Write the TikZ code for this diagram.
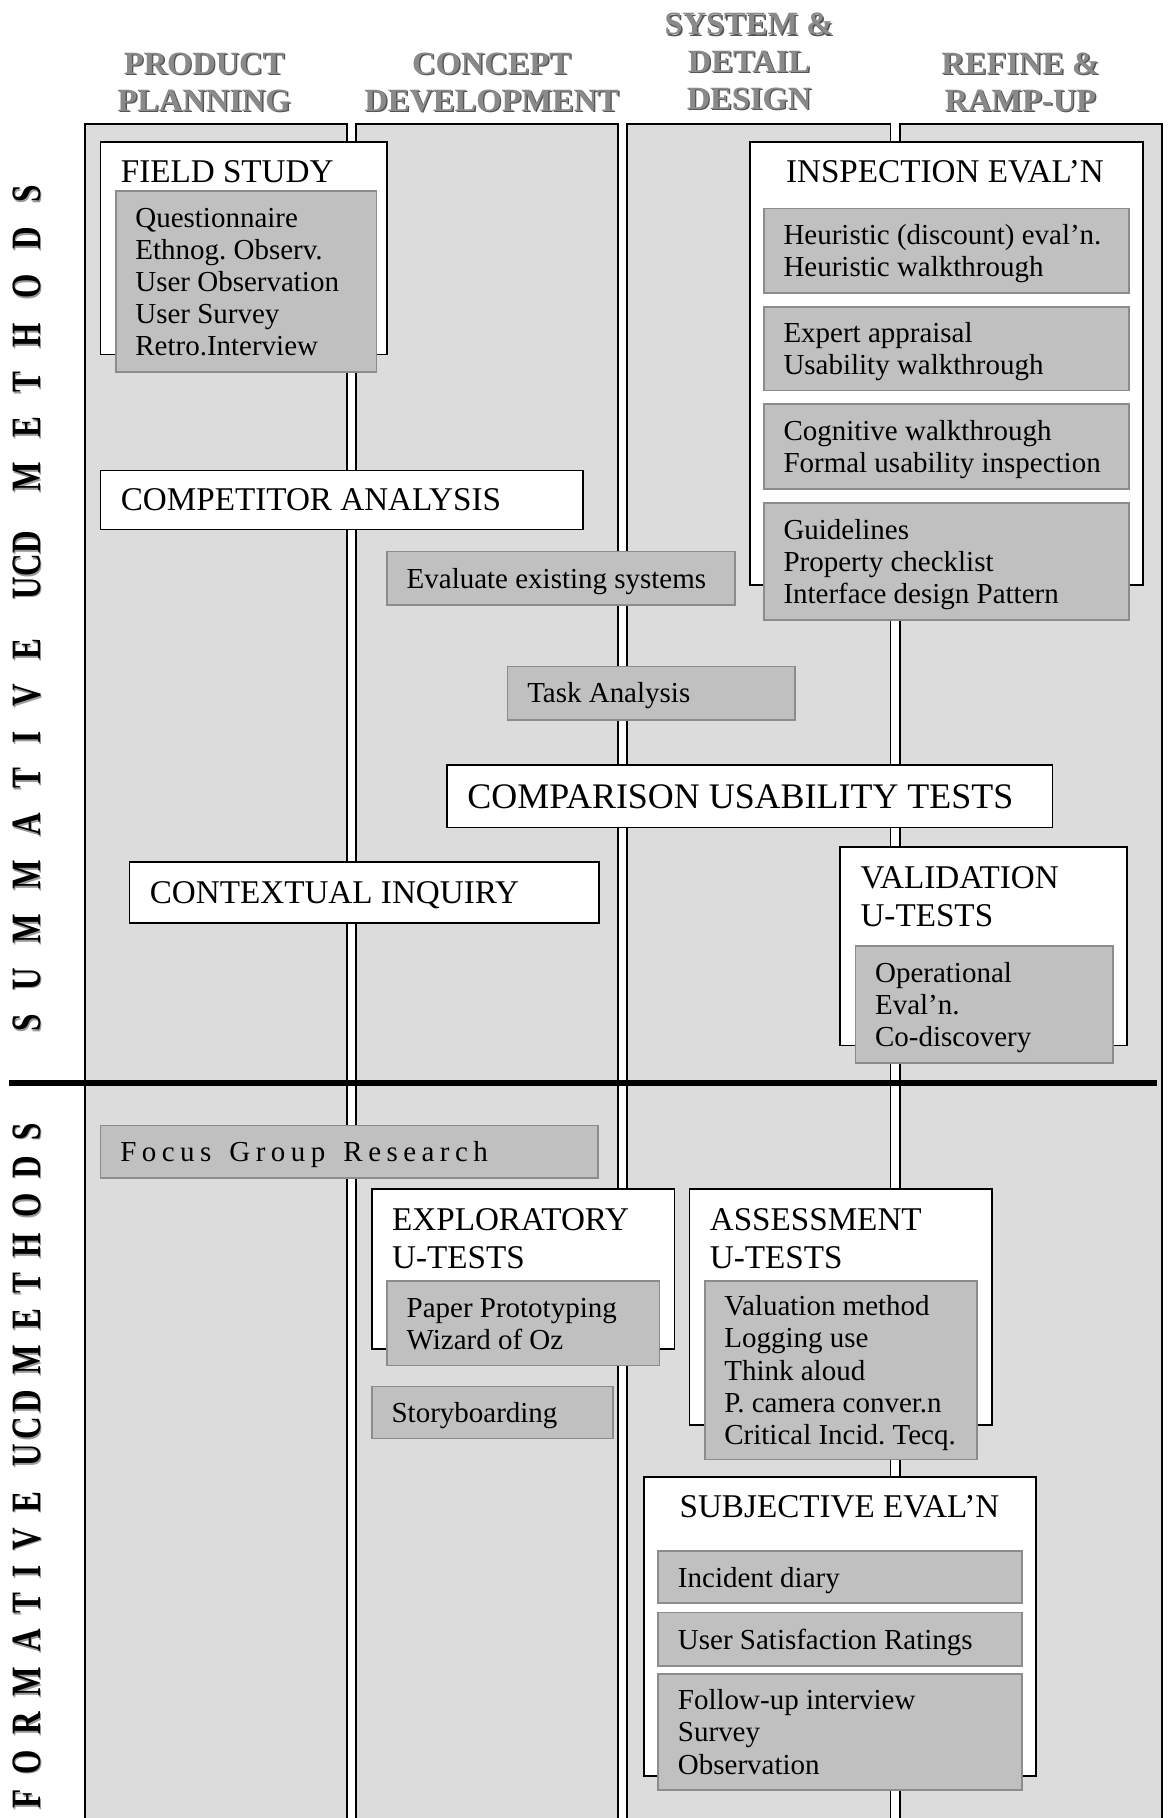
\documentclass[tikz,border=0pt]{standalone}
\usepackage{graphicx}
\usepackage{fontspec}
\setmainfont{Liberation Serif}
\frenchspacing
\makeatletter
\newcommand\lsp[2]{\def\lsp@sep{\hspace{#1}}\lsp@go#2\@nil}
\def\lsp@go#1#2\@nil{#1\ifx\relax#2\relax\else\lsp@sep\lsp@go#2\@nil\fi}
\makeatother
\newcommand\bodyf{\fontsize{25}{27.75}\selectfont}
\newcommand\ttlf{\fontsize{28.6}{33}\selectfont}
\newcommand\bigttlf{\fontsize{31}{36}\selectfont}
\newcommand\headf{\fontsize{28}{32}\selectfont\bfseries}
\newcommand\vertf{\fontsize{36}{40}\selectfont\bfseries}
\newcommand\summtext{\scalebox{0.75}[1]{\lsp{28pt}{SUMMATIVE}\hspace{45.7pt}UCD\hspace{45.7pt}\lsp{28pt}{METHODS}}}
\newcommand\formtext{\scalebox{0.75}[1]{\lsp{17.6pt}{FORMATIVE}\hspace{28pt}\lsp{5.3pt}{UCD}\hspace{17.6pt}\lsp{17.6pt}{METHODS}}}
\definecolor{panelgray}{HTML}{DCDCDC}
\definecolor{boxgray}{HTML}{C0C0C0}
\definecolor{boxedge}{HTML}{8C8C8C}
\definecolor{headgray}{HTML}{8A8A8A}
\definecolor{headshadow}{HTML}{555555}
\definecolor{vertshadow}{HTML}{9A9A9A}
\newcommand\wb[5]{\pgfmathsetmacro\bw{#4-#2}\pgfmathsetmacro\bh{#5-#3}%
  \node[wbox,minimum width=\bw pt,minimum height=\bh pt,anchor=north west] (#1) at (#2,#3) {};}
\newcommand\gb[6]{\pgfmathsetmacro\bw{#4-#2}\pgfmathsetmacro\bh{#5-#3}\pgfmathsetmacro\tw{#4-#2-34}%
  \node[gbox,minimum width=\bw pt,minimum height=\bh pt,anchor=north west] (#1) at (#2,#3)
    {\makebox[\tw pt][l]{\begin{tabular}{@{}l@{}}\rule{0pt}{25.4pt}#6\end{tabular}}};}
\begin{document}
\begin{tikzpicture}[x=1pt,y=-1pt,
  panel/.style={fill=panelgray,draw=black,line width=1.6pt},
  wbox/.style={fill=white,draw=black,line width=1.5pt,inner sep=0pt},
  gbox/.style={fill=boxgray,draw=boxedge,line width=1.5pt,inner xsep=17pt,inner ysep=0pt,font=\bodyf},
  ttl/.style={inner sep=0pt,font=\ttlf},
  head/.style={inner sep=0pt,align=center,font=\headf,text=headgray},
  headsh/.style={inner sep=0pt,align=center,font=\headf,text=headshadow},
  vert/.style={inner sep=0pt,font=\vertf,rotate=90},
  divider/.style={line width=5pt,draw=black}]
\clip (0,0) rectangle (1007,1568);
\fill[white] (0,0) rectangle (1007,1568);
% phase panels
\draw[panel] (73,107) rectangle (299,1600);
\draw[panel] (307,107) rectangle (533,1600);
\draw[panel] (541,107) rectangle (768,1600);
\draw[panel] (776,107) rectangle (1002,1600);
% headers
\node[headsh] (h1s) at (177.2,72.2) {PRODUCT\\PLANNING};
\node[head] (h1) at (176,71) {PRODUCT\\PLANNING};
\node[headsh] (h2s) at (425.2,72.2) {CONCEPT\\DEVELOPMENT};
\node[head] (h2) at (424,71) {CONCEPT\\DEVELOPMENT};
\node[headsh] (h3s) at (647.2,54.2) {SYSTEM \&\\DETAIL\\DESIGN};
\node[head] (h3) at (646,53) {SYSTEM \&\\DETAIL\\DESIGN};
\node[headsh] (h4s) at (881.2,72.2) {REFINE \&\\RAMP-UP};
\node[head] (h4) at (880,71) {REFINE \&\\RAMP-UP};
% side labels
\node[vert,text=vertshadow] (summs) at (24.5,526.5) {\summtext};
\node[vert] (summ) at (23,525) {\summtext};
\node[vert,text=vertshadow] (forms) at (24.5,1265.5) {\formtext};
\node[vert] (form) at (23,1264) {\formtext};
% divider
\coordinate (dl) at (8,934);
\coordinate (dr) at (998,934);
\draw[divider] (dl) -- (dr);
% ---- summative methods
\wb{fs}{86}{122}{333}{305}
\node[ttl,anchor=base west] (fst) at (104,157) {FIELD STUDY};
\gb{fsg}{99}{164}{324}{320}{Questionnaire\\Ethnog. Observ.\\User Observation\\User Survey\\Retro.Interview}
\wb{ins}{646}{122}{985}{504}
\node[ttl,anchor=base] (inst) at (815,157) {INSPECTION EVAL'N};
\gb{ins1}{658}{179}{973}{252}{Heuristic (discount) eval'n.\\Heuristic walkthrough}
\gb{ins2}{658}{264}{973}{336}{Expert appraisal\\Usability walkthrough}
\gb{ins3}{658}{348}{973}{421}{Cognitive walkthrough\\Formal usability inspection}
\gb{ins4}{658}{433}{973}{534}{Guidelines\\Property checklist\\Interface design Pattern}
\wb{ca}{86}{405}{502}{456}
\node[ttl,anchor=base west] (cat) at (104,440) {COMPETITOR ANALYSIS};
\gb{evs}{333}{475}{633}{521}{Evaluate existing systems}
\gb{ta}{437}{574}{685}{620}{Task Analysis}
\wb{cut}{385}{659}{907}{713}
\node[inner sep=0pt,font=\bigttlf,anchor=base west] (cutt) at (403,697) {COMPARISON USABILITY TESTS};
\wb{ci}{111}{743}{516}{795}
\node[ttl,anchor=base west] (cit) at (129,779) {CONTEXTUAL INQUIRY};
\wb{val}{724}{730}{971}{901}
\node[ttl,anchor=base west] (valt1) at (742,766) {VALIDATION};
\node[ttl,anchor=base west] (valt2) at (742,799) {U-TESTS};
\gb{valg}{737}{815}{959}{916}{Operational\\Eval'n.\\Co-discovery}
% ---- formative methods
\gb{fg}{86}{970}{515}{1015}{\lsp{4.7pt}{Focus~Group~Research}}
\wb{exp}{320}{1025}{581}{1163}
\node[ttl,anchor=base west] (expt1) at (338,1061) {EXPLORATORY};
\node[ttl,anchor=base west] (expt2) at (338,1094) {U-TESTS};
\gb{expg}{333}{1104}{568}{1177}{Paper Prototyping\\Wizard of Oz}
\gb{sb}{320}{1195}{528}{1240}{Storyboarding}
\wb{ass}{594}{1025}{855}{1228}
\node[ttl,anchor=base west] (asst1) at (612,1061) {ASSESSMENT};
\node[ttl,anchor=base west] (asst2) at (612,1094) {U-TESTS};
\gb{assg}{607}{1104}{842}{1258}{Valuation method\\Logging use\\Think aloud\\P. camera conver.n\\Critical Incid. Tecq.}
\wb{subj}{555}{1273}{893}{1531}
\node[ttl,anchor=base] (subjt) at (724,1309) {SUBJECTIVE EVAL'N};
\gb{sub1}{567}{1337}{881}{1382}{Incident diary}
\gb{sub2}{567}{1390}{881}{1436}{User Satisfaction Ratings}
\gb{sub3}{567}{1443}{881}{1543}{Follow-up interview\\Survey\\Observation}
\end{tikzpicture}
\end{document}
